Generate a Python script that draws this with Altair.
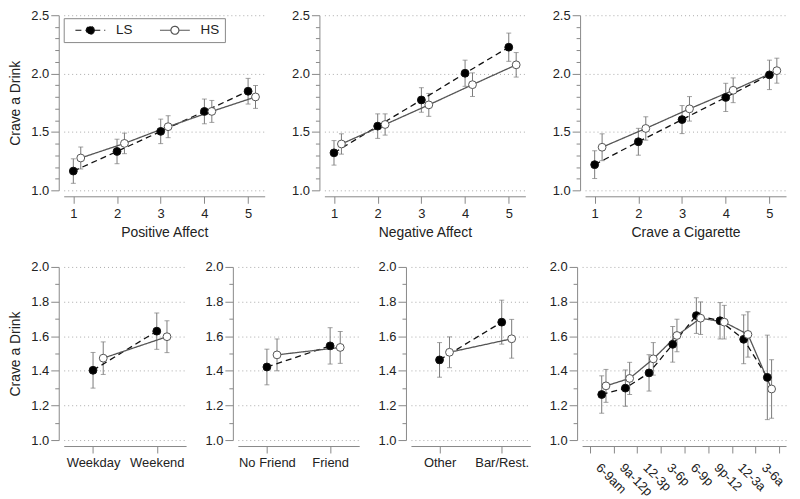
import json
import altair as alt
import pandas as pd

FONT = "Liberation Sans"
SERIES = ["LS", "HS"]

# ---------------- top row: 1-5 ratings ----------------
rating_levels = [1, 2, 3, 4, 5]

pos_ls = [1.165, 1.333, 1.505, 1.676, 1.849]
pos_ls_se = [0.105, 0.105, 0.105, 0.106, 0.110]
pos_hs = [1.277, 1.402, 1.545, 1.676, 1.800]
pos_hs_se = [0.094, 0.088, 0.094, 0.094, 0.098]

neg_ls = [1.321, 1.550, 1.774, 2.003, 2.226]
neg_ls_se = [0.105, 0.105, 0.105, 0.112, 0.121]
neg_hs = [1.397, 1.564, 1.732, 1.905, 2.075]
neg_hs_se = [0.087, 0.091, 0.098, 0.101, 0.105]

cig_ls = [1.220, 1.416, 1.606, 1.796, 1.989]
cig_ls_se = [0.119, 0.115, 0.120, 0.121, 0.126]
cig_hs = [1.369, 1.530, 1.698, 1.857, 2.025]
cig_hs_se = [0.115, 0.100, 0.105, 0.106, 0.107]

# ---------------- bottom row: contexts ----------------
day_labels = ["Weekday", "Weekend"]
day_ls = [1.403, 1.629]
day_ls_se = [0.103, 0.105]
day_hs = [1.473, 1.597]
day_hs_se = [0.094, 0.092]

friend_labels = ["No Friend", "Friend"]
friend_ls = [1.422, 1.544]
friend_ls_se = [0.103, 0.105]
friend_hs = [1.492, 1.535]
friend_hs_se = [0.092, 0.092]

place_labels = ["Other", "Bar/Rest."]
place_ls = [1.463, 1.681]
place_ls_se = [0.100, 0.127]
place_hs = [1.507, 1.585]
place_hs_se = [0.089, 0.112]

time_labels = ["6-9am", "9a-12p", "12-3p", "3-6p", "6-9p", "9p-12", "12-3a", "3-6a"]
time_ls = [1.263, 1.300, 1.388, 1.553, 1.719, 1.689, 1.582, 1.362]
time_ls_se = [0.108, 0.105, 0.105, 0.103, 0.103, 0.105, 0.141, 0.244]
time_hs = [1.313, 1.356, 1.469, 1.604, 1.704, 1.681, 1.610, 1.295]
time_hs_se = [0.095, 0.093, 0.094, 0.094, 0.094, 0.097, 0.131, 0.169]

ERR = "#7a7a7a"
LEG_PATH = ("M-3,0H-0.8M0.8,0H3"
            "M0.8,0A0.8,0.8,0,1,1,-0.8,0A0.8,0.8,0,1,1,0.8,0Z")


def frame(pos, ls, ls_se, hs, hs_se, base_shift, hs_shift):
    rows = []
    for p, m, s in zip(pos, ls, ls_se):
        rows.append(dict(xp=p + base_shift, m=m, lo=m - s, hi=m + s, series="LS"))
    for p, m, s in zip(pos, hs, hs_se):
        rows.append(dict(xp=p + base_shift + hs_shift, m=m, lo=m - s, hi=m + s, series="HS"))
    return pd.DataFrame(rows)


def y_axis(lo, hi, major, title):
    vals = [round(lo + 0.1 * i, 1) for i in range(int(round((hi - lo) / 0.1)) + 1)]
    k = round(1 / major)
    test = f"abs(datum.value*{k} - round(datum.value*{k})) < 0.001"
    return alt.Axis(
        values=vals,
        labelExpr=f"{test} ? format(datum.value, '.1f') : ''",
        tickSize={"condition": {"test": test, "value": 8}, "value": 4},
        gridOpacity={"condition": {"test": test, "value": 1}, "value": 0},
        grid=True,
        offset=5,
        labelPadding=2,
        labelOverlap=False,
        labelFlush=False,
        title=title,
        titlePadding=8,
    )


def panel(df, xdom, xaxis, ydom, yaxis, w, h, legend=None):
    x = alt.X("xp:Q", scale=alt.Scale(domain=xdom, nice=False, zero=False), axis=xaxis)
    ysc = alt.Scale(domain=ydom, nice=False, zero=False)
    stroke = alt.Stroke("series:N", scale=alt.Scale(domain=SERIES, range=["#111111", "#555555"]), legend=legend)
    dash = alt.StrokeDash("series:N", scale=alt.Scale(domain=SERIES, range=[[6, 4], [1, 0]]), legend=legend)
    fill = alt.Fill("series:N", scale=alt.Scale(domain=SERIES, range=["#000000", "#ffffff"]), legend=legend)
    base = alt.Chart(df)
    bars = base.mark_rule(color=ERR, strokeWidth=1).encode(
        x=x, y=alt.Y("lo:Q", scale=ysc, axis=yaxis), y2="hi:Q")
    cap_lo = base.mark_tick(orient="horizontal", size=5, thickness=1, color=ERR).encode(
        x=x, y=alt.Y("lo:Q", scale=ysc, axis=yaxis))
    cap_hi = base.mark_tick(orient="horizontal", size=5, thickness=1, color=ERR).encode(
        x=x, y=alt.Y("hi:Q", scale=ysc, axis=yaxis))
    line = base.mark_line(strokeWidth=1.3).encode(
        x=x, y=alt.Y("m:Q", scale=ysc, axis=yaxis), stroke=stroke, strokeDash=dash)
    pts = base.mark_circle(size=62, opacity=1, strokeWidth=1).encode(
        x=x, y=alt.Y("m:Q", scale=ysc, axis=yaxis), fill=fill, stroke=stroke)
    return alt.layer(bars, cap_lo, cap_hi, line, pts).properties(width=w, height=h)


def top_x_axis(title):
    return alt.Axis(values=rating_levels, format="d", grid=False, offset=6, tickSize=7,
                    labelPadding=4, title=title, titlePadding=5,
                    labelFlush=False, labelOverlap=False)


def cat_x_axis(labels):
    return alt.Axis(values=list(range(len(labels))),
                    labelExpr=f"{json.dumps(labels)}[datum.value]",
                    grid=False, offset=6, tickSize=7, labelPadding=4, title=None,
                    labelFlush=False, labelOverlap=False)


legend = alt.Legend(
    orient="none", legendX=0, legendY=3, direction="horizontal", title=None,
    strokeColor="#888888", padding=5, symbolType=LEG_PATH, symbolSize=100,
    symbolOffset=15, labelOffset=19, columnPadding=20, symbolStrokeWidth=1.2,
    labelFontSize=13.5, labelFont=FONT, labelColor="#222222",
)

TW, TH = 202, 176
top_dom = [0.78, 5.38]
pA = panel(frame(rating_levels, pos_ls, pos_ls_se, pos_hs, pos_hs_se, 0, 0.17), top_dom,
           top_x_axis("Positive Affect"), [1.0, 2.5], y_axis(1.0, 2.5, 0.5, "Crave a Drink"),
           TW, TH, legend)
pB = panel(frame(rating_levels, neg_ls, neg_ls_se, neg_hs, neg_hs_se, 0, 0.17), top_dom,
           top_x_axis("Negative Affect"), [1.0, 2.5], y_axis(1.0, 2.5, 0.5, None), TW, TH)
pC = panel(frame(rating_levels, cig_ls, cig_ls_se, cig_hs, cig_hs_se, 0, 0.17), top_dom,
           top_x_axis("Crave a Cigarette"), [1.0, 2.5], y_axis(1.0, 2.5, 0.5, None), TW, TH)

BH = 174
cat_dom = [-0.46, 1.46]
p1 = panel(frame([0, 1], day_ls, day_ls_se, day_hs, day_hs_se, 0, 0.16), cat_dom,
           cat_x_axis(day_labels), [1.0, 2.0], y_axis(1.0, 2.0, 0.2, "Crave a Drink"), 123, BH)
p2 = panel(frame([0, 1], friend_ls, friend_ls_se, friend_hs, friend_hs_se, 0, 0.16), cat_dom,
           cat_x_axis(friend_labels), [1.0, 2.0], y_axis(1.0, 2.0, 0.2, None), 122, BH)
p3 = panel(frame([0, 1], place_ls, place_ls_se, place_hs, place_hs_se, 0, 0.16), cat_dom,
           cat_x_axis(place_labels), [1.0, 2.0], y_axis(1.0, 2.0, 0.2, None), 120, BH)

time_axis = alt.Axis(
    values=list(range(len(time_labels) + 1)),
    labelExpr=f"datum.value < {len(time_labels)} ? {json.dumps(time_labels)}[datum.value] : ''",
    grid=False, offset=6, tickSize=7, labelPadding=8, labelAngle=45, labelAlign="left",
    labelBaseline="top", labelOffset=12, title=None, labelFlush=False, labelOverlap=False)
p4 = panel(frame(list(range(len(time_labels))), time_ls, time_ls_se, time_hs, time_hs_se, 0.5, 0.18),
           [-0.33, 8.29], time_axis, [1.0, 2.0], y_axis(1.0, 2.0, 0.2, None), 205, BH)

indep = dict(x="independent", y="independent", fill="independent",
             stroke="independent", strokeDash="independent")
leg_indep = dict(fill="independent", stroke="independent", strokeDash="independent")

top = alt.hconcat(pA, pB, pC, spacing=60, bounds="flush").resolve_scale(**indep).resolve_legend(**leg_indep)
bottom = alt.hconcat(p1, p2, p3, p4, spacing=52, bounds="flush").resolve_scale(**indep).resolve_legend(**leg_indep)

chart = (
    alt.vconcat(top, bottom, spacing=22)
    .resolve_scale(**indep)
    .resolve_legend(**leg_indep)
    .properties(padding=0)
    .configure_view(stroke=None)
    .configure_axis(
        labelFont=FONT, titleFont=FONT, labelFontSize=13, titleFontSize=14,
        labelColor="#222222", titleColor="#222222", titleFontWeight="normal",
        domainColor="#888888", tickColor="#888888", gridColor="#aaaaaa",
        gridDash=[1, 3], domainWidth=1, tickWidth=1,
    )
)

chart.save("out.html", embed_options={"renderer": "svg", "actions": False})
